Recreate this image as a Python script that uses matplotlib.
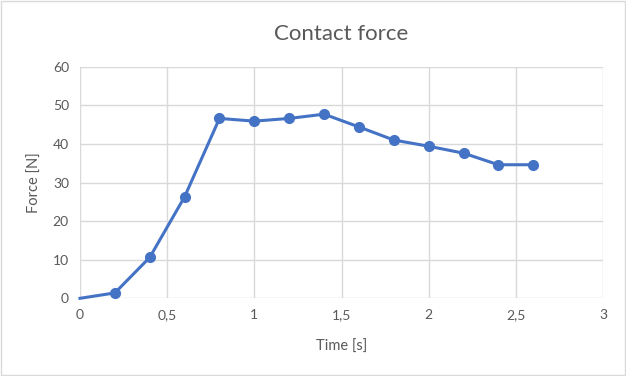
import matplotlib
matplotlib.use("Agg")
import matplotlib.pyplot as plt
from matplotlib.patches import Rectangle
from matplotlib.ticker import FuncFormatter

# data
time_s = [0.0, 0.2, 0.4, 0.6, 0.8, 1.0, 1.2, 1.4, 1.6, 1.8, 2.0, 2.2, 2.4, 2.6]
force_n = [0.0, 1.4, 10.6, 26.3, 46.6, 45.9, 46.6, 47.7, 44.4, 41.0, 39.4, 37.6, 34.6, 34.6]
x_ticks = [0, 0.5, 1, 1.5, 2, 2.5, 3]
y_ticks = [0, 10, 20, 30, 40, 50, 60]

TEXT = "#595959"
GRID = "#D9D9D9"
BLUE = "#4472C4"

plt.rcParams["font.family"] = ["Lato", "DejaVu Sans"]

fig = plt.figure(figsize=(6.26, 3.76), dpi=100)
ax = fig.add_axes([0.1278, 0.2066, 0.8355, 0.616])

# chart border like Excel
fig.patches.append(Rectangle((0.002, 0.003), 0.996, 0.994, transform=fig.transFigure,
                             fill=False, edgecolor=GRID, linewidth=1))

ax.plot(time_s, force_n, color=BLUE, linewidth=2.2, marker="o", markersize=7,
        markevery=list(range(1, len(time_s))), zorder=3, clip_on=False)

ax.set_xlim(0, 3)
ax.set_ylim(0, 60)
ax.set_xticks(x_ticks)
ax.set_yticks(y_ticks)
ax.xaxis.set_major_formatter(FuncFormatter(lambda v, p: f"{v:g}".replace(".", ",")))
ax.grid(True, color=GRID, linewidth=1)
ax.set_axisbelow(True)
for s in ax.spines.values():
    s.set_visible(False)
ax.tick_params(length=0, colors=TEXT, labelsize=10, pad=8)

ax.set_title("Contact force", color=TEXT, fontsize=16, pad=19)
ax.set_xlabel("Time [s]", color=TEXT, fontsize=10.5, labelpad=13)
ax.set_ylabel("Force [N]", color=TEXT, fontsize=10.5, labelpad=8)

fig.savefig("out.png", dpi=100)
